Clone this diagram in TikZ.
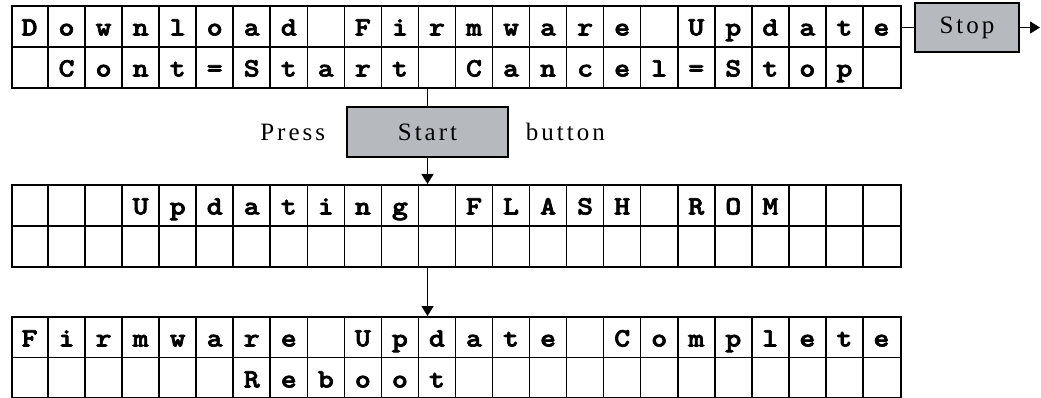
\documentclass[tikz,border=0pt]{standalone}
\usepackage{fontspec}
\usepackage{tikz}
\usetikzlibrary{arrows.meta,positioning}
\newfontfamily\lcdfont{lmmonolt10-bold}[Extension=.otf, FakeBold=2.5, FakeStretch=1.15]
\newfontfamily\labelfont{Liberation Serif}[LetterSpace=12]
\definecolor{btngray}{RGB}{182,185,190}

% one 24x2 display and its characters
\newcommand{\lcdgrid}[1]{%
  \foreach \k in {1,...,23}
    \draw[cell] ([xshift=\k*37.04pt]#1.north west) -- ([xshift=\k*37.04pt]#1.south west);
  \draw[cell] (#1.west) -- (#1.east);}
\newcommand{\lcdrow}[3]{%
  \foreach \ch [count=\k from 0] in {#3}
    \node[lcdchar] at ([xshift={(\k+0.5)*37.04pt}, yshift={-(#2*41+30.5)*1pt}]#1.north west) {\ch};}

\begin{document}
\begin{tikzpicture}[
  x=1pt, y=-1pt,
  cell/.style={line width=1.6pt},
  lcd/.style={draw, line width=1.6pt, anchor=north west, minimum width=889pt,
    minimum height=82pt, inner sep=0pt},
  lcdchar/.style={anchor=base, inner sep=0pt, font=\lcdfont\fontsize{26.5}{26.5}\selectfont},
  btn/.style={draw, line width=1.4pt, fill=btngray, inner sep=0pt,
    font=\labelfont\fontsize{25}{25}\selectfont},
  lbl/.style={inner sep=0pt, font=\labelfont\fontsize{25}{25}\selectfont},
  d/.style={-{Triangle[length=10pt,width=12pt]}, line width=1.4pt}
]
\useasboundingbox (0,0) rectangle (1041,398);

\node[lcd] (lcdA) at (11,5) {};
\node[lcd] (lcdB) at (11,184) {};
\node[lcd, minimum height=81pt] (lcdC) at (11,316) {};
\lcdgrid{lcdA}
\lcdgrid{lcdB}
\lcdgrid{lcdC}

\lcdrow{lcdA}{0}{D,o,w,n,l,o,a,d,{},F,i,r,m,w,a,r,e,{},U,p,d,a,t,e}
\lcdrow{lcdA}{1}{{},C,o,n,t,=,S,t,a,r,t,{},C,a,n,c,e,l,=,S,t,o,p}
\lcdrow{lcdB}{0}{{},{},{},U,p,d,a,t,i,n,g,{},F,L,A,S,H,{},R,O,M}
\lcdrow{lcdC}{0}{F,i,r,m,w,a,r,e,{},U,p,d,a,t,e,{},C,o,m,p,l,e,t,e}
\lcdrow{lcdC}{1}{{},{},{},{},{},{},R,e,b,o,o,t}

\node[btn, minimum width=161pt, minimum height=50pt] (start) at (427.5,132) {Start};
\node[lbl, left=21pt of start] (press) {Press};
\node[lbl, right=17pt of start] (button) {button};
\node[btn, minimum width=104pt, minimum height=49pt] (stop) at (967,27.5) {Stop};
\coordinate (stopout) at (1040,27.5);

\draw[line width=1.4pt] (start.north |- lcdA.south) -- (start);
\draw[d] (start) -- (start.south |- lcdB.north);
\draw[d] (start.south |- lcdB.south) -- (start.south |- lcdC.north);
\draw[line width=1.4pt] (lcdA.east |- stop) -- (stop);
\draw[d] (stop) -- (stopout);
\end{tikzpicture}
\end{document}
